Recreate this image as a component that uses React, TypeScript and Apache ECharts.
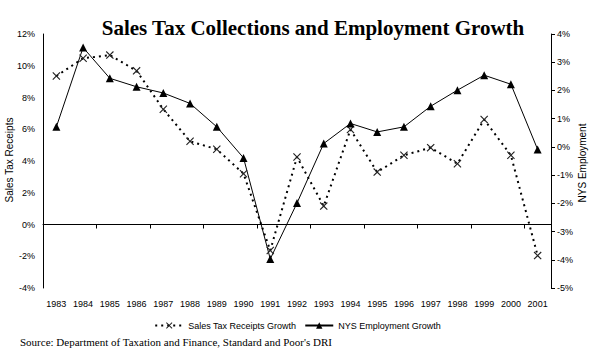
import React, { useEffect, useRef } from "react";
import * as echarts from "echarts";

const years = ["1983","1984","1985","1986","1987","1988","1989","1990","1991","1992","1993","1994","1995","1996","1997","1998","1999","2000","2001"];
const salesTaxGrowth = [9.35,10.47,10.67,9.68,7.26,5.24,4.74,3.2,-1.64,4.25,1.16,5.98,3.3,4.36,4.84,3.83,6.61,4.36,-1.96];
const employmentGrowth = [0.71,3.52,2.43,2.13,1.91,1.54,0.71,-0.39,-3.97,-1.99,0.12,0.83,0.53,0.71,1.44,2.01,2.54,2.22,-0.09];
const seriesNames = ["Sales Tax Receipts Growth", "NYS Employment Growth"];
const titleText = "Sales Tax Collections and Employment Growth";
const sourceText = "Source: Department of Taxation and Finance, Standard and Poor's DRI";
const leftAxisName = "Sales Tax Receipts";
const rightAxisName = "NYS Employment";

const X_SYMBOL = "path://M0,1 L1,0 L5,4 L9,0 L10,1 L6,5 L10,9 L9,10 L5,6 L1,10 L0,9 L4,5 Z";
const SANS = "Liberation Sans";
const SERIF = "Liberation Serif";

export default function App() {
  const ref = useRef<HTMLDivElement>(null);
  useEffect(() => {
    document.body.style.margin = "0";
    if (!ref.current) return;
    const chart = echarts.init(ref.current, undefined, { renderer: "svg" });
    chart.setOption({
      animation: false,
      backgroundColor: "#ffffff",
      grid: { left: 43, right: 44, top: 34, bottom: 62, containLabel: false },
      xAxis: [
        {
          type: "category",
          data: years,
          position: "bottom",
          boundaryGap: true,
          axisLine: { show: false, onZero: false },
          axisTick: { show: false },
          axisLabel: { color: "#000", fontSize: 9, fontFamily: SANS, margin: 11, interval: 0 },
        },
        {
          type: "category",
          data: years,
          position: "bottom",
          boundaryGap: true,
          axisLine: { show: true, onZero: true, onZeroAxisIndex: 0, lineStyle: { color: "#000", width: 1 } },
          axisTick: { show: true, length: 4, inside: false, lineStyle: { color: "#000" } },
          axisLabel: { show: false },
        },
      ],
      yAxis: [
        {
          type: "value",
          min: -4,
          max: 12,
          interval: 2,
          position: "left",
          axisLine: { show: true, lineStyle: { color: "#000", width: 1 } },
          axisTick: { show: false },
          splitLine: { show: false },
          axisLabel: { color: "#000", fontSize: 9, fontFamily: SANS, margin: 8, formatter: "{value}%" },
        },
        {
          type: "value",
          min: -5,
          max: 4,
          interval: 1,
          position: "right",
          axisLine: { show: true, lineStyle: { color: "#000", width: 1 } },
          axisTick: { show: true, length: 4, lineStyle: { color: "#000" } },
          splitLine: { show: false },
          axisLabel: { color: "#000", fontSize: 9, fontFamily: SANS, margin: 6, formatter: "{value}%" },
        },
      ],
      legend: {
        data: seriesNames,
        left: "center",
        top: 316,
        itemWidth: 28,
        itemHeight: 8,
        itemGap: 8,
        textStyle: { color: "#000", fontSize: 9, fontFamily: SANS },
      },
      series: [
        {
          name: seriesNames[0],
          type: "line",
          xAxisIndex: 0,
          yAxisIndex: 0,
          data: salesTaxGrowth,
          symbol: X_SYMBOL,
          symbolSize: 8,
          itemStyle: { color: "#222" },
          lineStyle: { color: "#000", width: 2, type: [2, 4] },
        },
        {
          name: seriesNames[1],
          type: "line",
          xAxisIndex: 0,
          yAxisIndex: 1,
          data: employmentGrowth,
          symbol: "triangle",
          symbolSize: 8,
          itemStyle: { color: "#000" },
          lineStyle: { color: "#000", width: 1 },
        },
      ],
      graphic: [
        {
          type: "text",
          x: 313,
          y: 28,
          style: { text: titleText, font: `bold 21px "${SERIF}"`, fill: "#000", textAlign: "center", textVerticalAlign: "middle" },
        },
        {
          type: "text",
          x: 20,
          y: 342,
          style: { text: sourceText, font: `11px "${SERIF}"`, fill: "#000", textAlign: "left", textVerticalAlign: "middle" },
        },
        {
          type: "text",
          x: 9,
          y: 160,
          rotation: Math.PI / 2,
          style: { text: leftAxisName, font: `10px "${SANS}"`, fill: "#000", textAlign: "center", textVerticalAlign: "middle" },
        },
        {
          type: "text",
          x: 582,
          y: 163,
          rotation: Math.PI / 2,
          style: { text: rightAxisName, font: `10px "${SANS}"`, fill: "#000", textAlign: "center", textVerticalAlign: "middle" },
        },
      ],
    });
    return () => chart.dispose();
  }, []);
  return <div ref={ref} style={{ width: 595, height: 350 }} />;
}
